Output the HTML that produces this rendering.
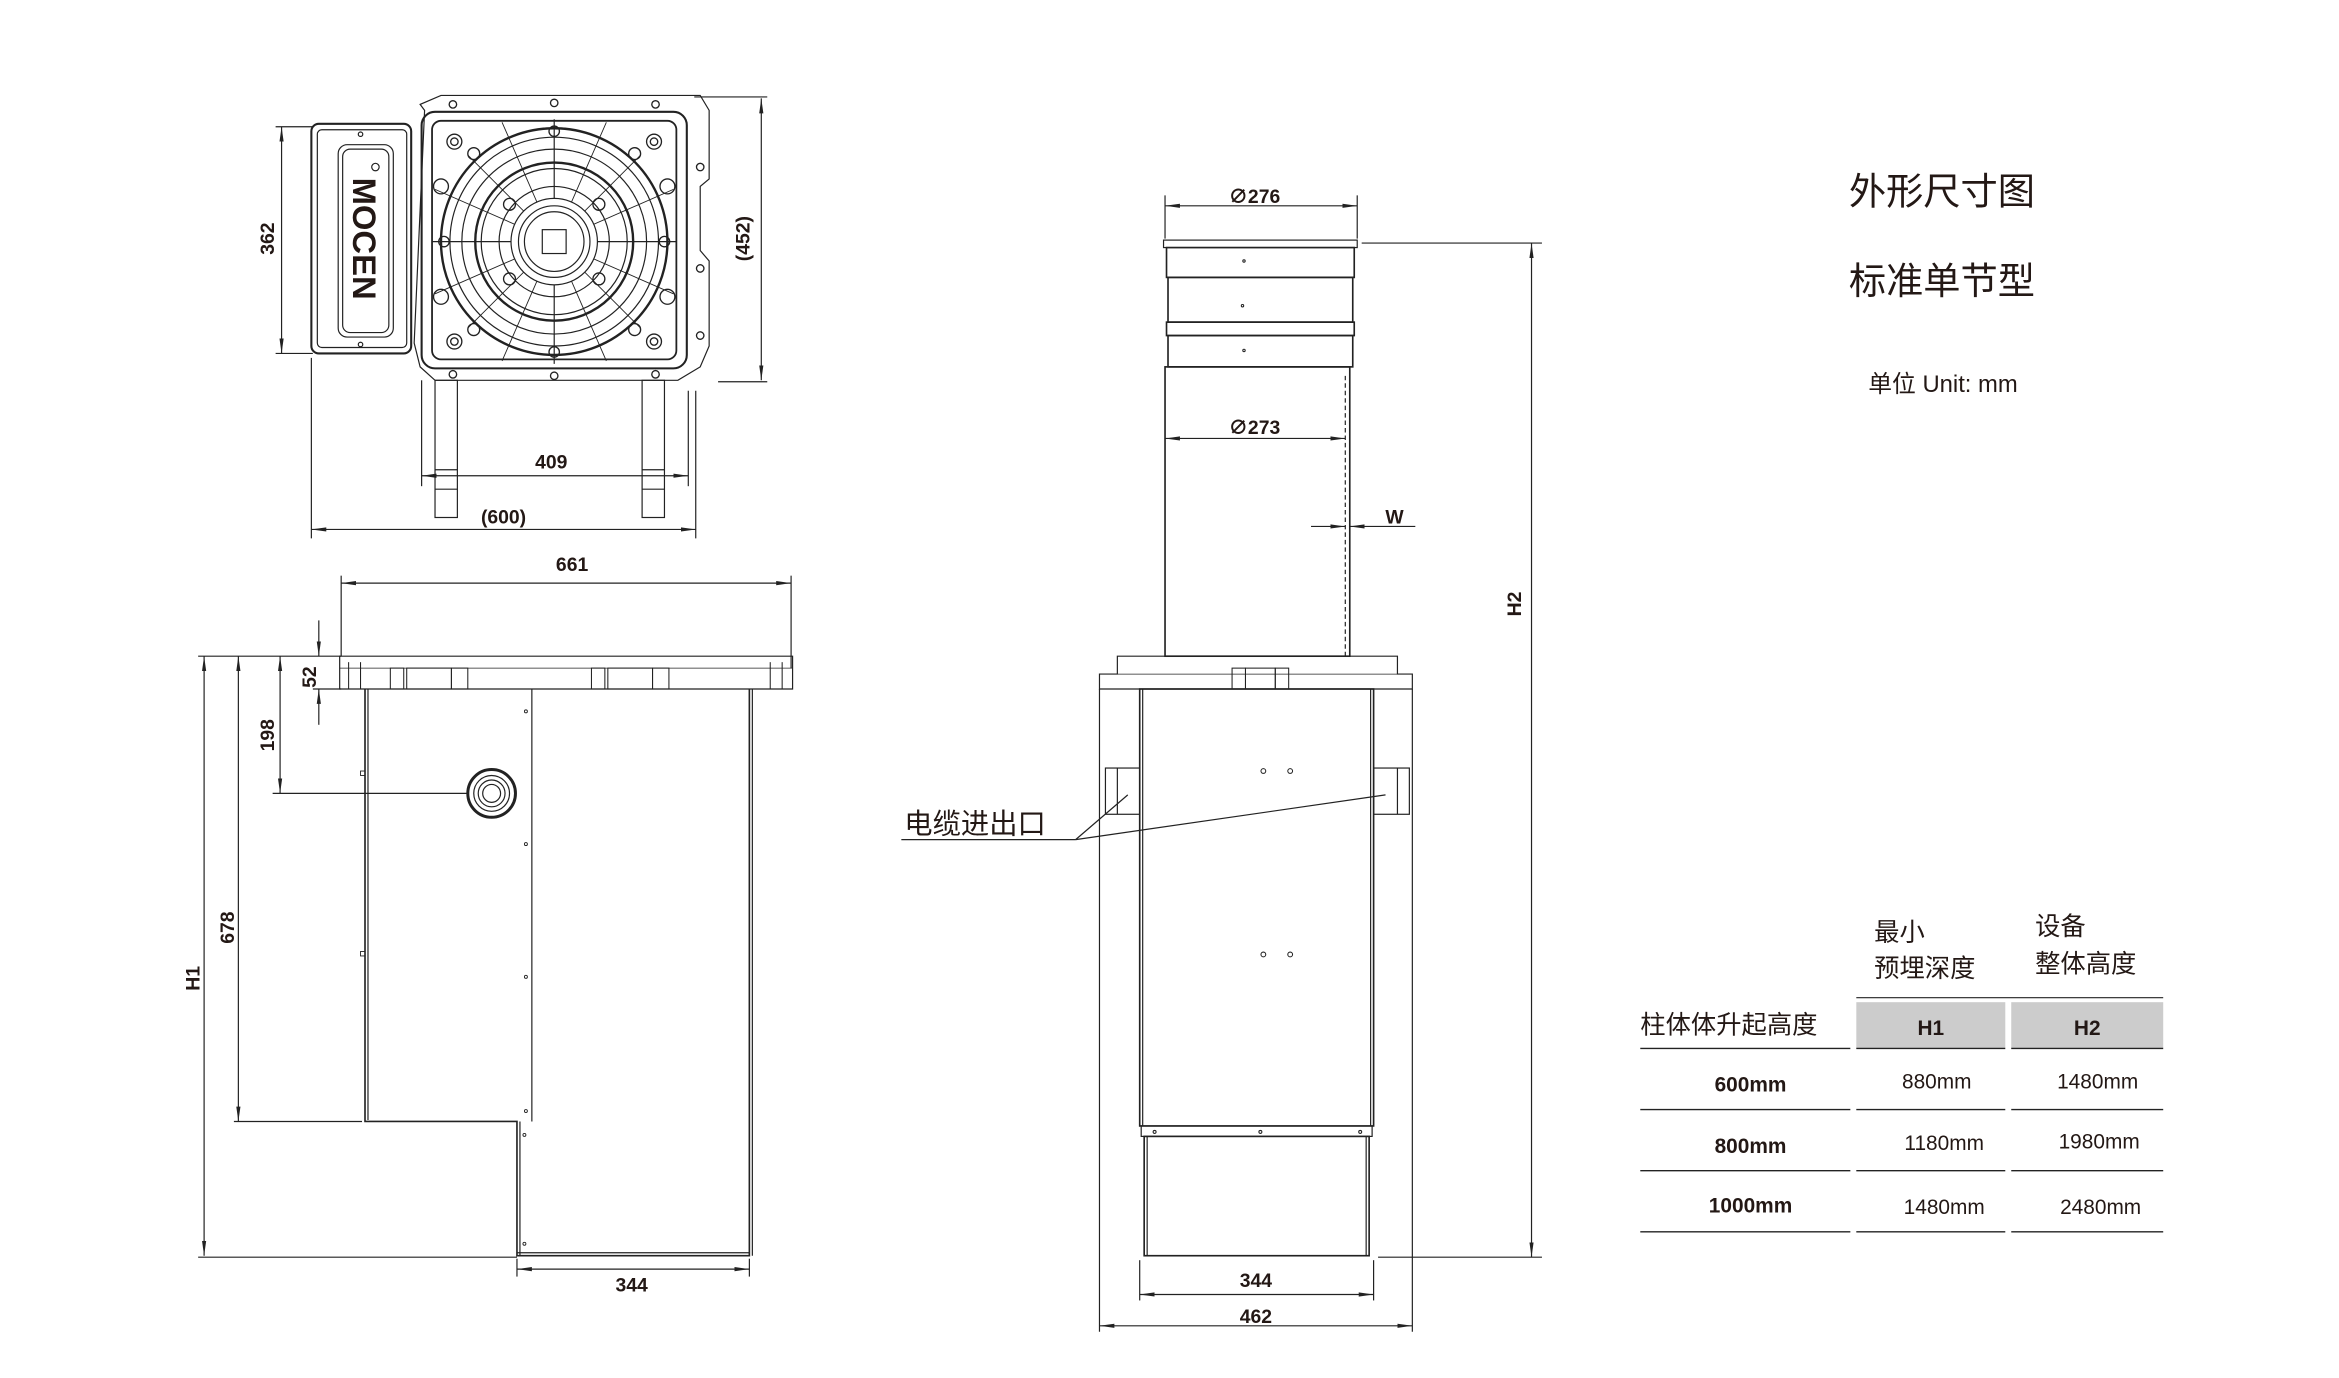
<!DOCTYPE html>
<html><head><meta charset="utf-8"><style>
html,body{margin:0;padding:0;background:#fff;}
svg{display:block;}
text{font-family:"Liberation Sans","Noto Sans CJK SC",sans-serif;fill:#231815;}
.b{font-weight:bold;}
</style></head><body>
<svg width="2339" height="1378" viewBox="0 0 1570 924" preserveAspectRatio="none" xmlns="http://www.w3.org/2000/svg">
<defs>
<marker id="a" viewBox="0 0 10 4" refX="10" refY="2" markerWidth="10" markerHeight="4" orient="auto-start-reverse" markerUnits="userSpaceOnUse"><path d="M0,0.6 L10,2 L0,3.4z" fill="#222"/></marker>
</defs>
<g fill="none" stroke="#222" stroke-width="0.8">

<!-- ============ TOP VIEW ============ -->
<line x1="189" y1="85" x2="189" y2="237" marker-start="url(#a)" marker-end="url(#a)"/>
<line x1="185" y1="85" x2="210" y2="85"/><line x1="185" y1="237" x2="210" y2="237"/>
<rect x="209" y="83" width="67" height="154" rx="5" stroke-width="1.4"/>
<rect x="213" y="87" width="60" height="146" rx="3"/>
<rect x="227" y="97" width="37" height="129" rx="6"/>
<rect x="230" y="100" width="31" height="123" rx="5"/>
<circle cx="242" cy="90" r="1.5"/><circle cx="242" cy="231" r="1.5"/><circle cx="252" cy="112" r="2.5"/>
<!-- flange -->
<path d="M285,74 L282,70 L296,64 L470,64 L476,74 L476,120 L470,125 L470,168 L476,175 L476,232 L470,246 L455,255 L292,255 L282,246 L278,230 Z"/>
<rect x="283" y="75" width="178" height="172" rx="9" stroke-width="1.4"/>
<rect x="290" y="81" width="164" height="160" rx="6" stroke-width="1.2"/>
<circle cx="372" cy="162" r="76" stroke-width="1.6"/>
<circle cx="372" cy="162" r="70"/>
<circle cx="372" cy="162" r="62"/>
<circle cx="372" cy="162" r="53" stroke-width="1.6"/>
<circle cx="372" cy="162" r="49"/>
<circle cx="372" cy="162" r="37"/>
<line x1="372" y1="80" x2="372" y2="244"/><line x1="290" y1="162" x2="454" y2="162"/>
<g stroke-width="0.6">
<line x1="314" y1="104" x2="430" y2="220"/><line x1="430" y1="104" x2="314" y2="220"/>
<line x1="337" y1="82" x2="407" y2="242"/><line x1="407" y1="82" x2="337" y2="242"/>
<line x1="292" y1="127" x2="452" y2="197"/><line x1="292" y1="197" x2="452" y2="127"/>
</g>
<circle cx="372" cy="162" r="29" fill="#fff"/><circle cx="372" cy="162" r="24"/><circle cx="372" cy="162" r="20"/>
<rect x="364" y="154" width="16" height="16"/>
<g stroke-width="0.9">
<circle cx="305" cy="95" r="5"/><circle cx="305" cy="95" r="2.5"/>
<circle cx="439" cy="95" r="5"/><circle cx="439" cy="95" r="2.5"/>
<circle cx="305" cy="229" r="5"/><circle cx="305" cy="229" r="2.5"/>
<circle cx="439" cy="229" r="5"/><circle cx="439" cy="229" r="2.5"/>
<circle cx="296" cy="125" r="5"/><circle cx="448" cy="125" r="5"/>
<circle cx="296" cy="199" r="5"/><circle cx="448" cy="199" r="5"/>
<circle cx="318" cy="103" r="4"/><circle cx="426" cy="103" r="4"/>
<circle cx="318" cy="221" r="4"/><circle cx="426" cy="221" r="4"/>
<circle cx="372" cy="88" r="3.5"/><circle cx="372" cy="236" r="3.5"/>
<circle cx="298" cy="162" r="3.5"/><circle cx="446" cy="162" r="3.5"/>
<circle cx="342" cy="137" r="4"/><circle cx="402" cy="137" r="4"/>
<circle cx="342" cy="187" r="4"/><circle cx="402" cy="187" r="4"/>
<circle cx="304" cy="70" r="2.5"/><circle cx="372" cy="69" r="2.5"/><circle cx="440" cy="70" r="2.5"/>
<circle cx="304" cy="251" r="2.5"/><circle cx="372" cy="252" r="2.5"/><circle cx="440" cy="251" r="2.5"/>
<circle cx="470" cy="112" r="2.5"/><circle cx="470" cy="180" r="2.5"/><circle cx="470" cy="225" r="2.5"/>
</g>
<!-- legs -->
<rect x="292" y="255" width="15" height="92"/><rect x="431" y="255" width="15" height="92"/>
<line x1="292" y1="315" x2="307" y2="315"/><line x1="292" y1="328" x2="307" y2="328"/>
<line x1="431" y1="315" x2="446" y2="315"/><line x1="431" y1="328" x2="446" y2="328"/>
<line x1="283" y1="255" x2="283" y2="326"/><line x1="462" y1="262" x2="462" y2="326"/>
<line x1="283" y1="319" x2="462" y2="319" marker-start="url(#a)" marker-end="url(#a)"/>
<line x1="209" y1="240" x2="209" y2="361"/><line x1="467" y1="262" x2="467" y2="361"/>
<line x1="209" y1="355" x2="467" y2="355" marker-start="url(#a)" marker-end="url(#a)"/>
<line x1="511" y1="66" x2="511" y2="255" marker-start="url(#a)" marker-end="url(#a)"/>
<line x1="466" y1="65" x2="515" y2="65"/><line x1="482" y1="256" x2="515" y2="256"/>

<!-- ============ LEFT SIDE VIEW ============ -->
<line x1="229" y1="391" x2="531" y2="391" marker-start="url(#a)" marker-end="url(#a)"/>
<line x1="229" y1="386" x2="229" y2="440"/><line x1="531" y1="386" x2="531" y2="448"/>
<path d="M228,440 L532,440 L532,462 L228,462 Z"/>
<line x1="228" y1="448" x2="532" y2="448" stroke-width="0.5"/>
<g stroke-width="0.7">
<rect x="262" y="448" width="9" height="14"/><rect x="273" y="448" width="30" height="14"/><rect x="303" y="448" width="11" height="14"/>
<rect x="397" y="448" width="9" height="14"/><rect x="408" y="448" width="30" height="14"/><rect x="438" y="448" width="11" height="14"/>
<line x1="234" y1="444" x2="234" y2="462"/><line x1="242" y1="444" x2="242" y2="462"/><line x1="517" y1="444" x2="517" y2="462"/><line x1="525" y1="444" x2="525" y2="462"/>
</g>
<path d="M245,462 L245,752 L347,752 L347,842 L503,842 L503,462" stroke-width="1.1"/>
<line x1="247" y1="462" x2="247" y2="751"/><line x1="505" y1="462" x2="505" y2="842"/>
<line x1="357" y1="462" x2="357" y2="752"/><line x1="349" y1="752" x2="349" y2="842"/>
<line x1="347" y1="840" x2="503" y2="840"/>
<g stroke-width="0.6"><circle cx="353" cy="477" r="1"/><circle cx="353" cy="566" r="1"/><circle cx="353" cy="655" r="1"/><circle cx="353" cy="745" r="1"/><circle cx="352" cy="761" r="1"/><circle cx="352" cy="834" r="1"/>
<rect x="242" y="517" width="3" height="3"/><rect x="242" y="638" width="3" height="3"/></g>
<circle cx="330" cy="532" r="16" stroke-width="2"/><circle cx="330" cy="532" r="12"/><circle cx="330" cy="532" r="9"/><circle cx="330" cy="532" r="6"/>
<line x1="137" y1="440" x2="137" y2="842" marker-start="url(#a)" marker-end="url(#a)"/>
<line x1="160" y1="440" x2="160" y2="752" marker-start="url(#a)" marker-end="url(#a)"/>
<line x1="188" y1="440" x2="188" y2="532" marker-start="url(#a)" marker-end="url(#a)"/>
<line x1="214" y1="416" x2="214" y2="440" marker-end="url(#a)"/><line x1="214" y1="486" x2="214" y2="462" marker-end="url(#a)"/>
<line x1="133" y1="440" x2="229" y2="440"/><line x1="210" y1="462" x2="229" y2="462"/>
<line x1="183" y1="532" x2="314" y2="532"/><line x1="157" y1="752" x2="243" y2="752"/><line x1="133" y1="843" x2="347" y2="843"/>
<line x1="347" y1="844" x2="347" y2="856"/><line x1="503" y1="844" x2="503" y2="856"/>
<line x1="347" y1="851" x2="503" y2="851" marker-start="url(#a)" marker-end="url(#a)"/>

<!-- ============ FRONT VIEW ============ -->
<line x1="782" y1="138" x2="911" y2="138" marker-start="url(#a)" marker-end="url(#a)"/>
<line x1="782" y1="131" x2="782" y2="160"/><line x1="911" y1="131" x2="911" y2="160"/>
<rect x="781" y="161" width="130" height="5"/>
<rect x="783" y="166" width="126" height="20" stroke-width="1.1"/>
<rect x="784" y="186" width="124" height="30" stroke-width="1.1"/>
<rect x="783" y="216" width="126" height="9" stroke-width="1.1"/>
<rect x="784" y="225" width="124" height="21" stroke-width="1.1"/>
<rect x="782" y="246" width="124" height="194" stroke-width="1.1"/>
<line x1="903" y1="252" x2="903" y2="440" stroke-dasharray="3,2"/>
<line x1="782" y1="294" x2="903" y2="294" marker-start="url(#a)" marker-end="url(#a)"/>
<line x1="880" y1="353" x2="903" y2="353" marker-end="url(#a)"/><line x1="950" y1="353" x2="906" y2="353" marker-end="url(#a)"/>
<path d="M750,440 L938,440 L938,452 L948,452 L948,462 L738,462 L738,452 L750,452 Z"/>
<line x1="748" y1="452" x2="940" y2="452" stroke-width="0.5"/>
<g stroke-width="0.7"><rect x="827" y="448" width="9" height="14"/><rect x="836" y="448" width="20" height="14"/><rect x="856" y="448" width="9" height="14"/></g>
<rect x="765" y="462" width="157" height="293" stroke-width="1.1"/>
<line x1="767" y1="462" x2="767" y2="755"/><line x1="920" y1="462" x2="920" y2="755"/>
<rect x="766" y="755" width="155" height="7"/>
<rect x="768" y="762" width="151" height="80" stroke-width="1.1"/>
<line x1="770" y1="762" x2="770" y2="842"/><line x1="917" y1="762" x2="917" y2="842"/>
<rect x="742" y="515" width="23" height="31"/><line x1="750" y1="515" x2="750" y2="546"/>
<rect x="922" y="515" width="24" height="31"/><line x1="938" y1="515" x2="938" y2="546"/>
<g stroke-width="0.7"><circle cx="848" cy="517" r="1.6"/><circle cx="866" cy="517" r="1.6"/><circle cx="848" cy="640" r="1.6"/><circle cx="866" cy="640" r="1.6"/>
<circle cx="835" cy="175" r="0.8"/><circle cx="834" cy="205" r="0.8"/><circle cx="835" cy="235" r="0.8"/>
<circle cx="775" cy="759" r="1"/><circle cx="846" cy="759" r="1"/><circle cx="913" cy="759" r="1"/></g>
<line x1="605" y1="563" x2="722" y2="563"/>
<line x1="722" y1="563" x2="757" y2="533"/><line x1="722" y1="563" x2="930" y2="533"/>
<line x1="914" y1="163" x2="1035" y2="163"/><line x1="925" y1="843" x2="1035" y2="843"/>
<line x1="1028" y1="163" x2="1028" y2="843" marker-start="url(#a)" marker-end="url(#a)"/>
<line x1="765" y1="845" x2="765" y2="872"/><line x1="922" y1="845" x2="922" y2="872"/>
<line x1="765" y1="868" x2="922" y2="868" marker-start="url(#a)" marker-end="url(#a)"/>
<line x1="738" y1="462" x2="738" y2="893"/><line x1="948" y1="462" x2="948" y2="893"/>
<line x1="738" y1="889" x2="948" y2="889" marker-start="url(#a)" marker-end="url(#a)"/>

<!-- ============ TABLE ============ -->
<rect x="1246" y="672" width="100" height="31" fill="#ccc" stroke="none"/>
<rect x="1350" y="672" width="102" height="31" fill="#ccc" stroke="none"/>
<line x1="1246" y1="669" x2="1452" y2="669"/>
<g stroke-width="0.9">
<line x1="1101" y1="703" x2="1242" y2="703"/><line x1="1246" y1="703" x2="1346" y2="703"/><line x1="1350" y1="703" x2="1452" y2="703"/>
<line x1="1101" y1="744" x2="1242" y2="744"/><line x1="1246" y1="744" x2="1346" y2="744"/><line x1="1350" y1="744" x2="1452" y2="744"/>
<line x1="1101" y1="785" x2="1242" y2="785"/><line x1="1246" y1="785" x2="1346" y2="785"/><line x1="1350" y1="785" x2="1452" y2="785"/>
<line x1="1101" y1="826" x2="1242" y2="826"/><line x1="1246" y1="826" x2="1346" y2="826"/><line x1="1350" y1="826" x2="1452" y2="826"/>
</g>
</g>

<!-- ============ TEXT ============ -->
<text class="b" font-size="22" transform="translate(237,160) rotate(90)" text-anchor="middle" fill="#222">MOCEN</text>
<g font-size="13" class="b" text-anchor="middle">
<text transform="translate(184,160) rotate(-90)">362</text>
<text transform="translate(503,160) rotate(-90)">(452)</text>
<text x="370" y="314">409</text>
<text x="338" y="351">(600)</text>
<text x="384" y="383">661</text>
<text transform="translate(212,454) rotate(-90)">52</text>
<text transform="translate(184,493) rotate(-90)">198</text>
<text transform="translate(157,622) rotate(-90)">678</text>
<text transform="translate(134,656) rotate(-90)">H1</text>
<text x="424" y="866">344</text>
<text x="842" y="136">∅276</text>
<text x="842" y="291">∅273</text>
<text x="936" y="351">W</text>
<text transform="translate(1021,405) rotate(-90)">H2</text>
<text x="843" y="863">344</text>
<text x="843" y="887">462</text>
</g>
<text x="607" y="559" font-size="19">电缆进出口</text>
<text x="1241" y="137" font-size="25">外形尺寸图</text>
<text x="1241" y="197" font-size="25">标准单节型</text>
<text x="1254" y="263" font-size="16">单位 Unit: mm</text>
<g font-size="17">
<text x="1258" y="631">最小</text><text x="1258" y="655">预埋深度</text>
<text x="1366" y="627">设备</text><text x="1366" y="652">整体高度</text>
<text x="1101" y="693">柱体体升起高度</text>
</g>
<g font-size="14" text-anchor="middle">
<text class="b" x="1296" y="694">H1</text><text class="b" x="1401" y="694">H2</text>
<text class="b" x="1175" y="732">600mm</text><text x="1300" y="730">880mm</text><text x="1408" y="730">1480mm</text>
<text class="b" x="1175" y="773">800mm</text><text x="1305" y="771">1180mm</text><text x="1409" y="770">1980mm</text>
<text class="b" x="1175" y="813">1000mm</text><text x="1305" y="814">1480mm</text><text x="1410" y="814">2480mm</text>
</g>
</svg>
</body></html>
